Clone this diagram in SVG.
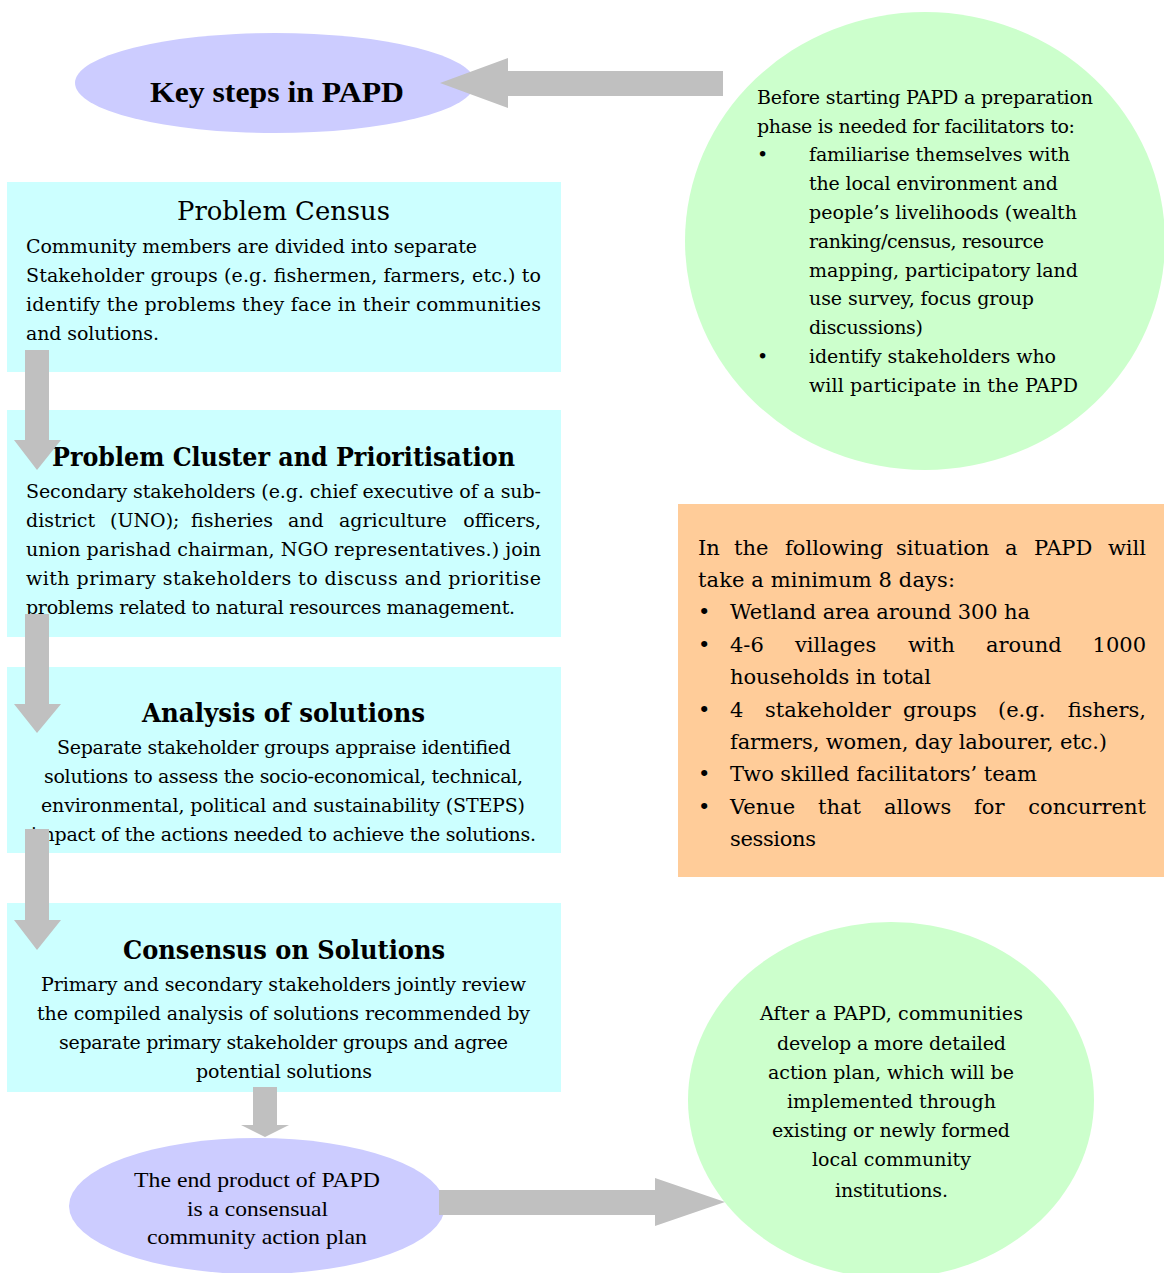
<svg xmlns="http://www.w3.org/2000/svg" width="1164" height="1273" viewBox="0 0 1164 1273">
<style>
.body{font-family:"DejaVu Serif","Liberation Serif",serif;font-size:19px;fill:#000}
.orng{font-family:"DejaVu Serif","Liberation Serif",serif;font-size:21px;fill:#000}
.ttl{font-family:"DejaVu Serif","Liberation Serif",serif;font-size:26px;font-weight:bold;fill:#000}
.ttlr{font-family:"DejaVu Serif","Liberation Serif",serif;font-size:26px;fill:#000}
.tms{font-family:"Liberation Serif",serif;font-size:22px;fill:#000}
.tmsb{font-family:"Liberation Serif",serif;font-size:29px;font-weight:bold;fill:#000}
.e{text-anchor:end}
.cyan{fill:#CCFFFF}
.lav{fill:#CCCCFF}
.grn{fill:#CCFFCC}
.arr{fill:#C0C0C0}
</style>

<g id="key-steps">
<ellipse class="lav" cx="275" cy="83" rx="200" ry="50"/>
<text class="tmsb" x="150" y="102" textLength="254" lengthAdjust="spacingAndGlyphs">Key steps in PAPD</text>
</g>

<g id="preparation">
<ellipse class="grn" cx="925" cy="241" rx="240" ry="229"/>
<text class="body" x="757" y="104" textLength="336">Before starting PAPD a preparation</text>
<text class="body" x="757" y="133" textLength="318">phase is needed for facilitators to:</text>
<text class="body" x="757" y="161">•</text>
<text class="body" x="809" y="161" textLength="261">familiarise themselves with</text>
<text class="body" x="809" y="190" textLength="249">the local environment and</text>
<text class="body" x="809" y="219" textLength="268">people’s livelihoods (wealth</text>
<text class="body" x="809" y="248" textLength="235">ranking/census, resource</text>
<text class="body" x="809" y="277" textLength="269">mapping, participatory land</text>
<text class="body" x="809" y="305" textLength="225">use survey, focus group</text>
<text class="body" x="809" y="334" textLength="114">discussions)</text>
<text class="body" x="757" y="363">•</text>
<text class="body" x="809" y="363" textLength="247">identify stakeholders who</text>
<text class="body" x="809" y="392" textLength="269">will participate in the PAPD</text>
</g>

<g id="problem-census">
<rect class="cyan" x="7" y="182" width="554" height="190"/>
<text class="ttlr" x="177" y="220" textLength="213" lengthAdjust="spacingAndGlyphs">Problem Census</text>
<text class="body" x="26" y="253" textLength="451">Community members are divided into separate</text>
<text class="body" x="26" y="282" textLength="515">Stakeholder groups (e.g. fishermen, farmers, etc.) to</text>
<text class="body" x="26" y="311" textLength="515">identify the problems they face in their communities</text>
<text class="body" x="26" y="340" textLength="133">and solutions.</text>
</g>

<g id="problem-cluster">
<rect class="cyan" x="7" y="410" width="554" height="227"/>
<text class="ttl" x="52" y="466" textLength="463" lengthAdjust="spacingAndGlyphs">Problem Cluster and Prioritisation</text>
<text class="body" x="26" y="498" textLength="515">Secondary stakeholders (e.g. chief executive of a sub-</text>
<text class="body" y="527"><tspan x="26">district</tspan><tspan x="110">(UNO);</tspan><tspan x="191">fisheries</tspan><tspan x="288">and</tspan><tspan x="339">agriculture</tspan></text>
<text class="body e" x="541" y="527">officers,</text>
<text class="body" x="26" y="556" textLength="515">union parishad chairman, NGO representatives.) join</text>
<text class="body" x="26" y="585" textLength="515">with primary stakeholders to discuss and prioritise</text>
<text class="body" x="26" y="614" textLength="489">problems related to natural resources management.</text>
</g>

<g id="analysis">
<rect class="cyan" x="7" y="667" width="554" height="186"/>
<text class="ttl" x="142" y="722" textLength="283" lengthAdjust="spacingAndGlyphs">Analysis of solutions</text>
<text class="body" x="57" y="754" textLength="454">Separate stakeholder groups appraise identified</text>
<text class="body" x="44" y="783" textLength="479">solutions to assess the socio-economical, technical,</text>
<text class="body" x="41" y="812" textLength="484">environmental, political and sustainability (STEPS)</text>
<text class="body" x="31" y="841" textLength="505">impact of the actions needed to achieve the solutions.</text>
</g>

<g id="consensus">
<rect class="cyan" x="7" y="903" width="554" height="189"/>
<text class="ttl" x="123" y="959" textLength="322" lengthAdjust="spacingAndGlyphs">Consensus on Solutions</text>
<text class="body" x="41" y="991" textLength="485">Primary and secondary stakeholders jointly review</text>
<text class="body" x="37" y="1020" textLength="493">the compiled analysis of solutions recommended by</text>
<text class="body" x="59" y="1049" textLength="449">separate primary stakeholder groups and agree</text>
<text class="body" x="196" y="1078" textLength="176">potential solutions</text>
</g>

<g id="conditions">
<rect x="678" y="504" width="486" height="373" fill="#FFCC99"/>
<text class="orng" y="555"><tspan x="698">In</tspan><tspan x="734">the</tspan><tspan x="785">following</tspan><tspan x="896">situation</tspan><tspan x="1005">a</tspan><tspan x="1034">PAPD</tspan></text>
<text class="orng e" x="1146" y="555">will</text>
<text class="orng" x="698" y="587" textLength="257">take a minimum 8 days:</text>
<text class="orng" x="698" y="619">•</text>
<text class="orng" x="730" y="619" textLength="300">Wetland area around 300 ha</text>
<text class="orng" x="698" y="652">•</text>
<text class="orng" y="652"><tspan x="730">4-6</tspan><tspan x="795">villages</tspan><tspan x="908">with</tspan><tspan x="986">around</tspan></text>
<text class="orng e" x="1146" y="652">1000</text>
<text class="orng" x="730" y="684" textLength="201">households in total</text>
<text class="orng" x="698" y="717">•</text>
<text class="orng" y="717"><tspan x="730">4</tspan><tspan x="765">stakeholder</tspan><tspan x="903">groups</tspan><tspan x="998">(e.g.</tspan></text>
<text class="orng e" x="1146" y="717">fishers,</text>
<text class="orng" x="730" y="749" textLength="377">farmers, women, day labourer, etc.)</text>
<text class="orng" x="698" y="781">•</text>
<text class="orng" x="730" y="781" textLength="307">Two skilled facilitators’ team</text>
<text class="orng" x="698" y="814">•</text>
<text class="orng" y="814"><tspan x="730">Venue</tspan><tspan x="818">that</tspan><tspan x="884">allows</tspan><tspan x="974">for</tspan></text>
<text class="orng e" x="1146" y="814">concurrent</text>
<text class="orng" x="730" y="846" textLength="86">sessions</text>
</g>

<g id="end-product">
<ellipse class="lav" cx="257" cy="1206" rx="188" ry="68"/>
<text class="tms" x="134" y="1187" textLength="246" lengthAdjust="spacingAndGlyphs">The end product of PAPD</text>
<text class="tms" x="187" y="1216" textLength="141" lengthAdjust="spacingAndGlyphs">is a consensual</text>
<text class="tms" x="147" y="1244" textLength="220" lengthAdjust="spacingAndGlyphs">community action plan</text>
</g>

<g id="after-papd">
<ellipse class="grn" cx="891" cy="1100" rx="203" ry="178"/>
<text class="body" x="760" y="1020" textLength="263">After a PAPD, communities</text>
<text class="body" x="777" y="1050" textLength="229">develop a more detailed</text>
<text class="body" x="768" y="1079" textLength="246">action plan, which will be</text>
<text class="body" x="787" y="1108" textLength="209">implemented through</text>
<text class="body" x="772" y="1137" textLength="238">existing or newly formed</text>
<text class="body" x="812" y="1166" textLength="159">local community</text>
<text class="body" x="835" y="1197" textLength="113">institutions.</text>
</g>

<g id="connectors">
<polygon class="arr" points="723,71 723,96 508,96 508,108 440,83 508,58 508,71"/>
<polygon class="arr" points="25,350 49,350 49,440 61,440 37,470 14,440 25,440"/>
<polygon class="arr" points="25,614 49,614 49,704 61,704 37,733 14,704 25,704"/>
<polygon class="arr" points="25,829 49,829 49,920 61,920 37,950 14,920 25,920"/>
<polygon class="arr" points="253,1087 277,1087 277,1125 289,1125 265,1137 241,1125 253,1125"/>
<polygon class="arr" points="439,1190 655,1190 655,1178 725,1202 655,1226 655,1215 439,1215"/>
</g>
</svg>
